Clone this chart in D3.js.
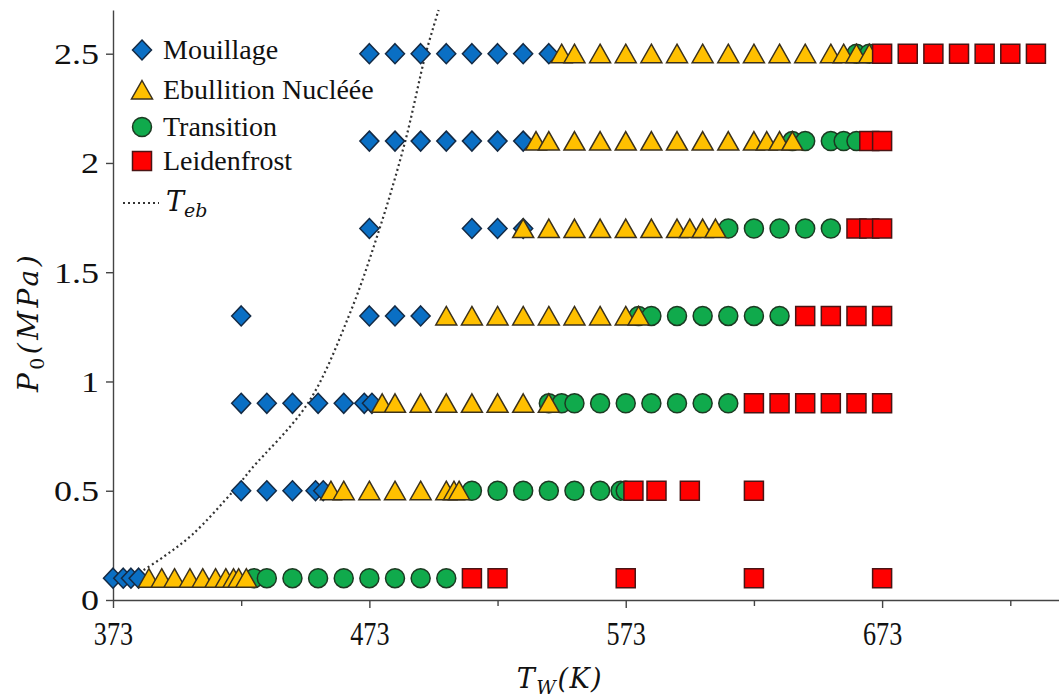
<!DOCTYPE html>
<html><head><meta charset="utf-8">
<script src="https://cdn.jsdelivr.net/npm/d3@7"></script>
<style>body{margin:0;background:#fff} svg{display:block}</style>
</head><body><svg id="chart" width="1059" height="698"></svg>
<script>
// ---- data ----
const xMajorTicks = [373, 473, 573, 673];
const xMinorTicks = [423, 523, 623, 723];
const xTickLabels = ["373", "473", "573", "673"];
const yTicks = [0, 0.5, 1, 1.5, 2, 2.5];
const yTickLabels = ["0", "0.5", "1", "1.5", "2", "2.5"];

// rows: [pressure MPa, wall temperatures K]
const mouillage = [
  [0.1, [373, 377, 380, 383]],
  [0.5, [423, 433, 443, 452, 455]],
  [0.9, [423, 433, 443, 453, 463, 471, 474]],
  [1.3, [423, 473, 483, 493]],
  [1.7, [473, 513, 523, 533]],
  [2.1, [473, 483, 493, 503, 513, 523, 533]],
  [2.5, [473, 483, 493, 503, 513, 523, 533, 543]]
];
const ebullition = [
  [0.1, [387, 392, 397, 403, 408, 413, 417, 420, 422, 425]],
  [0.5, [458, 463, 473, 483, 493, 503, 506, 508]],
  [0.9, [478, 483, 493, 503, 513, 523, 533, 543]],
  [1.3, [503, 513, 523, 533, 543, 553, 563, 573, 578]],
  [1.7, [533, 543, 553, 563, 573, 583, 593, 598, 603, 608]],
  [2.1, [538, 543, 553, 563, 573, 583, 593, 603, 613, 623, 628, 633, 638]],
  [2.5, [548, 553, 563, 573, 583, 593, 603, 613, 623, 633, 643, 653, 658, 663, 668]]
];
const transition = [
  [0.1, [428, 433, 443, 453, 463, 473, 483, 493, 503]],
  [0.5, [513, 523, 533, 543, 553, 563, 571, 573]],
  [0.9, [543, 548, 553, 563, 573, 583, 593, 603, 613]],
  [1.3, [578, 583, 593, 603, 613, 623, 633]],
  [1.7, [613, 623, 633, 643, 653]],
  [2.1, [638, 643, 653, 658, 663]],
  [2.5, [663, 668]]
];
const leidenfrost = [
  [0.1, [513, 523, 573, 623, 673]],
  [0.5, [576, 585, 598, 623]],
  [0.9, [623, 633, 643, 653, 663, 673]],
  [1.3, [643, 653, 663, 673]],
  [1.7, [663, 668, 673]],
  [2.1, [668, 673]],
  [2.5, [673, 683, 693, 703, 713, 723, 733]]
];
const tebT = [380, 393, 404, 420, 427, 449, 465, 477, 487, 495, 500];
const tebP = [0.1, 0.2, 0.3, 0.5, 0.6, 0.9, 1.3, 1.7, 2.1, 2.5, 2.7];

// ---- chart ----
const svg = d3.select("#chart");
const x = d3.scaleLinear().domain([373, 742]).range([113, 1059]);
const y = d3.scaleLinear().domain([0, 2.7]).range([600, 10]);
const axisColor = "#444";
const serif = "'Liberation Serif','Times New Roman',serif";
const mathFont = "'DejaVu Serif',serif";

// Teb curve
const teb = tebT.map((t, i) => [t, tebP[i]]);
svg.append("path")
  .attr("d", d3.line().x(d => x(d[0])).y(d => y(d[1])).curve(d3.curveCatmullRom)(teb))
  .attr("fill", "none").attr("stroke", "#333").attr("stroke-width", 2.2)
  .attr("stroke-dasharray", "2,3");

// axes
const yAxis = svg.append("g").attr("transform", `translate(${x(373)},0)`)
  .call(d3.axisLeft(y).tickValues(yTicks).tickSize(7).tickSizeOuter(0).tickPadding(7)
    .tickFormat((d, i) => yTickLabels[i]));
yAxis.selectAll("text").attr("font-family", serif).attr("font-size", 30).attr("fill", "#111")
  .attr("x", -14 / 1.2).attr("dy", "0.33em").attr("transform", "scale(1.2,1)");

const xAxis = svg.append("g").attr("transform", `translate(0,${y(0)})`)
  .call(d3.axisBottom(x).tickValues(xMajorTicks).tickSize(8).tickSizeOuter(0)
    .tickFormat((d, i) => xTickLabels[i]));
xAxis.selectAll("text").attr("font-family", serif).attr("font-size", 34).attr("fill", "#111")
  .attr("y", 45).attr("dy", 0).attr("transform", "scale(0.77,1)");
const xMinor = svg.append("g").attr("transform", `translate(0,${y(0)})`)
  .call(d3.axisBottom(x).tickValues(xMinorTicks).tickSize(6).tickFormat(""));
xMinor.select(".domain").remove();

svg.selectAll(".domain, .tick line").attr("stroke", axisColor).attr("stroke-width", 1.4);

// markers
const shapes = {
  diamond: "M0,-10L9.5,0L0,10L-9.5,0Z",
  triangle: "M0,-9.5L10.5,9L-10.5,9Z",
  square: "M-9.5,-9.5H9.5V9.5H-9.5Z",
  circle: "M9.5,0A9.5,9.5 0 1,1 -9.5,0A9.5,9.5 0 1,1 9.5,0Z"
};
const series = [
  {rows: mouillage, shape: "diamond", fill: "#0a6fc4", stroke: "#142a44"},
  {rows: transition, shape: "circle", fill: "#10aa4c", stroke: "#1c3a22"},
  {rows: ebullition, shape: "triangle", fill: "#ffc000", stroke: "#3b311c"},
  {rows: leidenfrost, shape: "square", fill: "#ff0000", stroke: "#4a1414"}
];
series.forEach(s => {
  const pts = s.rows.flatMap(([p, ts]) => ts.map(t => [t, p]));
  svg.append("g").selectAll("path").data(pts).join("path")
    .attr("d", shapes[s.shape])
    .attr("transform", d => `translate(${x(d[0])},${y(d[1])})`)
    .attr("fill", s.fill).attr("stroke", s.stroke).attr("stroke-width", 1.5);
});

// legend
const legendItems = [
  {label: "Mouillage", shape: "diamond", fill: "#0a6fc4", stroke: "#142a44", cy: 50},
  {label: "Ebullition Nucléée", shape: "triangle", fill: "#ffc000", stroke: "#3b311c", cy: 90},
  {label: "Transition", shape: "circle", fill: "#10aa4c", stroke: "#1c3a22", cy: 127},
  {label: "Leidenfrost", shape: "square", fill: "#ff0000", stroke: "#4a1414", cy: 161}
];
const lg = svg.append("g");
legendItems.forEach(it => {
  lg.append("path").attr("d", shapes[it.shape]).attr("transform", `translate(142,${it.cy})`)
    .attr("fill", it.fill).attr("stroke", it.stroke).attr("stroke-width", 1.5);
  lg.append("text").attr("x", 163).attr("y", it.cy + 9).text(it.label)
    .attr("font-family", serif).attr("font-size", 28).attr("fill", "#111");
});
lg.append("line").attr("x1", 123).attr("x2", 159).attr("y1", 203).attr("y2", 203)
  .attr("stroke", "#333").attr("stroke-width", 2.2).attr("stroke-dasharray", "2,3");
const tebLabel = lg.append("text").attr("x", 166).attr("y", 211)
  .attr("font-family", mathFont).attr("font-style", "italic").attr("font-size", 27).attr("fill", "#111");
tebLabel.append("tspan").text("T");
tebLabel.append("tspan").attr("dy", 6).attr("font-size", 19).text("eb");

// axis titles
const yTitle = svg.append("text")
  .attr("transform", "translate(38,322) rotate(-90)")
  .attr("text-anchor", "middle")
  .attr("font-family", mathFont).attr("font-style", "italic").attr("font-size", 28)
  .attr("letter-spacing", 3.5).attr("fill", "#111");
yTitle.append("tspan").text("P");
yTitle.append("tspan").attr("dy", 6).attr("font-size", 19).attr("font-style", "normal").text("0");
yTitle.append("tspan").attr("dy", -6).text("(MPa)");

const xTitle = svg.append("text")
  .attr("x", 560).attr("y", 688).attr("text-anchor", "middle")
  .attr("font-family", mathFont).attr("font-style", "italic").attr("font-size", 27)
  .attr("letter-spacing", 1.5).attr("fill", "#111");
xTitle.append("tspan").text("T");
xTitle.append("tspan").attr("dy", 6).attr("font-size", 19).text("W");
xTitle.append("tspan").attr("dy", -6).text("(K)");
</script></body></html>
